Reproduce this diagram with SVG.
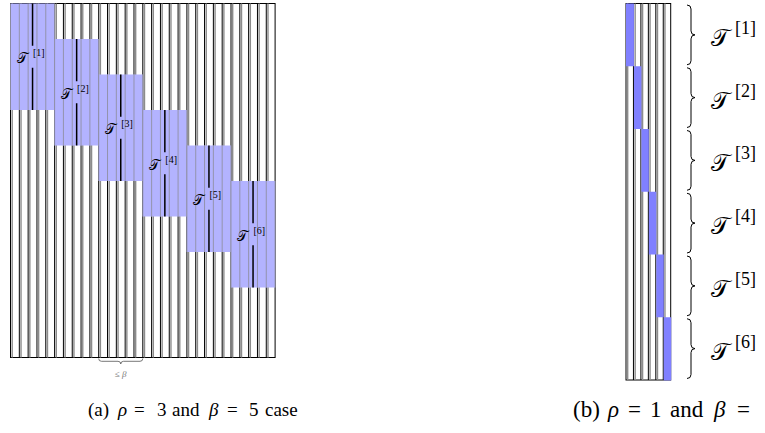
<svg xmlns="http://www.w3.org/2000/svg" width="765" height="433" viewBox="0 0 765 433">
<style>
.bg{fill:#ffffff}
.colb{fill:none;stroke:#000;stroke-width:1}
.colg{fill:none;stroke:#8c8c8c;stroke-width:1.4}
.blk{fill:#b3b3ff}
.inner{fill:none;stroke:#9090a4;stroke-width:0.9}
.mid{fill:none;stroke:#000;stroke-width:1.5}
.seg{fill:#8080ff}
.brace{fill:none;stroke:#000;stroke-width:1}
.sbrace{fill:none;stroke:#555;stroke-width:0.8}
.cal{font-family:"DejaVu Serif","Liberation Serif","Noto Sans",serif}
.num{font-family:"Liberation Serif",serif}
.cap{font-family:"Liberation Serif",serif;fill:#000}
.it{font-style:italic}
</style>
<rect class="bg" x="0" y="0" width="765" height="433"/>

<g id="left-columns">
<rect x="10.5" y="3.5" width="264.6" height="354" fill="#fff" stroke="#000" stroke-width="1"/>
<path class="colg" d="M12.2,3.5V357.5M21.02,3.5V357.5M29.84,3.5V357.5M38.66,3.5V357.5M47.48,3.5V357.5M56.3,3.5V357.5M65.12,3.5V357.5M73.94,3.5V357.5M82.76,3.5V357.5M91.58,3.5V357.5M100.4,3.5V357.5M109.22,3.5V357.5M118.04,3.5V357.5M126.86,3.5V357.5M135.68,3.5V357.5M144.5,3.5V357.5M153.32,3.5V357.5M162.14,3.5V357.5M170.96,3.5V357.5M179.78,3.5V357.5M188.6,3.5V357.5M197.42,3.5V357.5M206.24,3.5V357.5M215.06,3.5V357.5M223.88,3.5V357.5M232.7,3.5V357.5M241.52,3.5V357.5M250.34,3.5V357.5M259.16,3.5V357.5M267.98,3.5V357.5"/>
<path class="colb" d="M19.32,3.5V357.5M28.14,3.5V357.5M36.96,3.5V357.5M45.78,3.5V357.5M54.6,3.5V357.5M63.42,3.5V357.5M72.24,3.5V357.5M81.06,3.5V357.5M89.88,3.5V357.5M98.7,3.5V357.5M107.52,3.5V357.5M116.34,3.5V357.5M125.16,3.5V357.5M133.98,3.5V357.5M142.8,3.5V357.5M151.62,3.5V357.5M160.44,3.5V357.5M169.26,3.5V357.5M178.08,3.5V357.5M186.9,3.5V357.5M195.72,3.5V357.5M204.54,3.5V357.5M213.36,3.5V357.5M222.18,3.5V357.5M231,3.5V357.5M239.82,3.5V357.5M248.64,3.5V357.5M257.46,3.5V357.5M266.28,3.5V357.5"/>
</g>

<g id="T1">
<rect class="blk" x="10.5" y="3.5" width="44.1" height="106.5"/>
<path class="inner" d="M10.5,3.5V110M19.32,3.5V110M28.14,3.5V110M36.96,3.5V110M45.78,3.5V110M54.6,3.5V110"/>
<path class="mid" d="M32.55,3.5V45.75M32.55,67.75V110"/>
<text class="cal" x="16.5" y="63" font-size="14">𝒯</text>
<text class="num" x="33" y="56" font-size="10">[1]</text>
</g>
<g id="T2">
<rect class="blk" x="54.6" y="39" width="44.1" height="106.5"/>
<path class="inner" d="M54.6,39V145.5M63.42,39V145.5M72.24,39V145.5M81.06,39V145.5M89.88,39V145.5M98.7,39V145.5"/>
<path class="mid" d="M76.65,39V81.25M76.65,103.25V145.5"/>
<text class="cal" x="60.6" y="98.5" font-size="14">𝒯</text>
<text class="num" x="77.1" y="91.5" font-size="10">[2]</text>
</g>
<g id="T3">
<rect class="blk" x="98.7" y="74.5" width="44.1" height="106.5"/>
<path class="inner" d="M98.7,74.5V181M107.52,74.5V181M116.34,74.5V181M125.16,74.5V181M133.98,74.5V181M142.8,74.5V181"/>
<path class="mid" d="M120.75,74.5V116.75M120.75,138.75V181"/>
<text class="cal" x="104.7" y="134" font-size="14">𝒯</text>
<text class="num" x="121.2" y="127" font-size="10">[3]</text>
</g>
<g id="T4">
<rect class="blk" x="142.8" y="110" width="44.1" height="106.5"/>
<path class="inner" d="M142.8,110V216.5M151.62,110V216.5M160.44,110V216.5M169.26,110V216.5M178.08,110V216.5M186.9,110V216.5"/>
<path class="mid" d="M164.85,110V152.25M164.85,174.25V216.5"/>
<text class="cal" x="148.8" y="169.5" font-size="14">𝒯</text>
<text class="num" x="165.3" y="162.5" font-size="10">[4]</text>
</g>
<g id="T5">
<rect class="blk" x="186.9" y="145.5" width="44.1" height="106.5"/>
<path class="inner" d="M186.9,145.5V252M195.72,145.5V252M204.54,145.5V252M213.36,145.5V252M222.18,145.5V252M231,145.5V252"/>
<path class="mid" d="M208.95,145.5V187.75M208.95,209.75V252"/>
<text class="cal" x="192.9" y="205" font-size="14">𝒯</text>
<text class="num" x="209.4" y="198" font-size="10">[5]</text>
</g>
<g id="T6">
<rect class="blk" x="231" y="181" width="44.1" height="106.5"/>
<path class="inner" d="M231,181V287.5M239.82,181V287.5M248.64,181V287.5M257.46,181V287.5M266.28,181V287.5M275.1,181V287.5"/>
<path class="mid" d="M253.05,181V223.25M253.05,245.25V287.5"/>
<text class="cal" x="237" y="240.5" font-size="14">𝒯</text>
<text class="num" x="253.5" y="233.5" font-size="10">[6]</text>
</g>

<g id="beta-brace">
<path class="sbrace" d="M98.7,358.5Q98.7,361.3 101.5,361.3L118,361.3Q120.75,361.3 120.75,364Q120.75,361.3 123.5,361.3L140,361.3Q142.8,361.3 142.8,358.5"/>
<text x="120.75" y="377" font-size="9" fill="#777" text-anchor="middle" font-family="Liberation Serif,serif">≤ <tspan font-style="italic">β</tspan></text>
</g>

<g id="right-columns">
<rect x="626" y="3.5" width="44.7" height="376.5" fill="#fff" stroke="#000" stroke-width="1"/>
<path class="colg" d="M627.7,3.5V380M635.15,3.5V380M642.6,3.5V380M650.05,3.5V380M657.5,3.5V380M664.95,3.5V380"/>
<path class="colb" d="M633.45,3.5V380M640.9,3.5V380M648.35,3.5V380M655.8,3.5V380M663.25,3.5V380"/>
</g>
<g id="S1"><rect class="seg" x="626" y="3.5" width="7.95" height="62.75"/></g>
<g id="S2"><rect class="seg" x="633.95" y="66.25" width="7.45" height="62.75"/></g>
<g id="S3"><rect class="seg" x="641.4" y="129" width="7.45" height="62.75"/></g>
<g id="S4"><rect class="seg" x="648.85" y="191.75" width="7.45" height="62.75"/></g>
<g id="S5"><rect class="seg" x="656.3" y="254.5" width="7.45" height="62.75"/></g>
<g id="S6"><rect class="seg" x="663.75" y="317.25" width="7.45" height="63.2"/></g>

<g id="connectors">
<path class="brace" d="M687,5Q691,5 691,9L691,30.9Q691,34.9 695,34.9Q691,34.9 691,38.9L691,60.75Q691,64.75 687,64.75"/>
<path class="brace" d="M687,67.75Q691,67.75 691,71.75L691,93.6Q691,97.6 695,97.6Q691,97.6 691,101.6L691,123.5Q691,127.5 687,127.5"/>
<path class="brace" d="M687,130.5Q691,130.5 691,134.5L691,156.4Q691,160.4 695,160.4Q691,160.4 691,164.4L691,186.25Q691,190.25 687,190.25"/>
<path class="brace" d="M687,193.25Q691,193.25 691,197.25L691,219.1Q691,223.1 695,223.1Q691,223.1 691,227.1L691,249Q691,253 687,253"/>
<path class="brace" d="M687,256Q691,256 691,260L691,281.9Q691,285.9 695,285.9Q691,285.9 691,289.9L691,311.75Q691,315.75 687,315.75"/>
<path class="brace" d="M687,318.75Q691,318.75 691,322.75L691,344.6Q691,348.6 695,348.6Q691,348.6 691,352.6L691,374.5Q691,378.5 687,378.5"/>
</g>

<g id="right-labels">
<text class="cal" x="711" y="46" font-size="24">𝒯</text><text class="num" x="735" y="34" font-size="18">[1]</text>
<text class="cal" x="711" y="108.6" font-size="24">𝒯</text><text class="num" x="735" y="96.6" font-size="18">[2]</text>
<text class="cal" x="711" y="171.4" font-size="24">𝒯</text><text class="num" x="735" y="159.4" font-size="18">[3]</text>
<text class="cal" x="711" y="234.1" font-size="24">𝒯</text><text class="num" x="735" y="222.1" font-size="18">[4]</text>
<text class="cal" x="711" y="296.9" font-size="24">𝒯</text><text class="num" x="735" y="284.9" font-size="18">[5]</text>
<text class="cal" x="711" y="359.6" font-size="24">𝒯</text><text class="num" x="735" y="347.6" font-size="18">[6]</text>
</g>

<g id="captions">
<text class="cap" y="416" font-size="19"><tspan x="88">(a)</tspan><tspan x="118" class="it">ρ</tspan><tspan x="134">=</tspan><tspan x="157">3</tspan><tspan x="172">and</tspan><tspan x="209" class="it">β</tspan><tspan x="227">=</tspan><tspan x="249">5</tspan><tspan x="265">case</tspan></text>
<text class="cap" y="417" font-size="23"><tspan x="573">(b)</tspan><tspan x="608" class="it">ρ</tspan><tspan x="628">=</tspan><tspan x="650">1</tspan><tspan x="670">and</tspan><tspan x="714" class="it">β</tspan><tspan x="737">=</tspan></text>
</g>
</svg>
